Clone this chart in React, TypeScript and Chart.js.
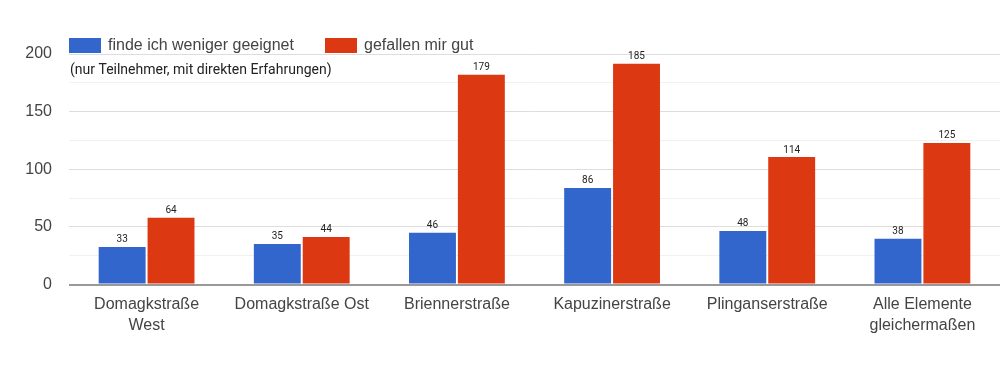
import React, { useEffect, useRef } from "react";
import { Chart, registerables } from "chart.js";

Chart.register(...registerables);

const categories: string[][] = [
  ["Domagkstraße", "West"],
  ["Domagkstraße Ost"],
  ["Briennerstraße"],
  ["Kapuzinerstraße"],
  ["Plinganserstraße"],
  ["Alle Elemente", "gleichermaßen"],
];

const seriesNames = ["finde ich weniger geeignet", "gefallen mir gut"];
const seriesColors = ["#3366cc", "#dc3912"];

// bar heights as drawn in the picture
const wenigerBars = [32.6, 35.2, 44.8, 83.8, 46.5, 39.6];
const gutBars = [57.9, 41.3, 182, 191.5, 110.6, 122.8];

// numbers printed above the bars
const wenigerLabels = ["33", "35", "46", "86", "48", "38"];
const gutLabels = ["64", "44", "179", "185", "114", "125"];

const subtitle = "(nur Teilnehmer, mit direkten Erfahrungen)";
const yMax = 200;
const yStep = 25;

export default function App() {
  const ref = useRef<HTMLCanvasElement | null>(null);

  useEffect(() => {
    document.body.style.margin = "0";
    const canvas = ref.current;
    if (!canvas) return;
    const labelSets = [wenigerLabels, gutLabels];

    const overlay = {
      id: "overlay",
      afterDatasetsDraw(chart: any) {
        const ctx = chart.ctx;
        ctx.save();
        ctx.font = "10px Roboto";
        ctx.fillStyle = "#222";
        ctx.textAlign = "center";
        ctx.textBaseline = "bottom";
        chart.data.datasets.forEach((_: any, di: number) => {
          const meta = chart.getDatasetMeta(di);
          meta.data.forEach((el: any, i: number) => {
            ctx.fillText(labelSets[di][i], el.x, el.y - 2);
          });
        });
        ctx.restore();
      },
      afterDraw(chart: any) {
        const ctx = chart.ctx;
        ctx.save();
        // legend
        ctx.font = "16px Arial";
        ctx.textBaseline = "middle";
        ctx.textAlign = "left";
        const boxX = [69, 325];
        seriesNames.forEach((name, i) => {
          ctx.fillStyle = seriesColors[i];
          ctx.fillRect(boxX[i], 38, 32, 15);
          ctx.fillStyle = "#444";
          ctx.fillText(name, boxX[i] + 39, 45.5);
        });
        // subtitle
        ctx.font = "14px Roboto";
        ctx.fillStyle = "#222";
        ctx.fillText(subtitle, 70, 70);
        ctx.restore();
      },
    };

    const chart = new Chart(canvas, {
      type: "bar",
      data: {
        labels: categories,
        datasets: [
          {
            label: seriesNames[0],
            data: wenigerBars,
            backgroundColor: seriesColors[0],
            categoryPercentage: 0.63,
            barPercentage: 0.96,
          },
          {
            label: seriesNames[1],
            data: gutBars,
            backgroundColor: seriesColors[1],
            categoryPercentage: 0.63,
            barPercentage: 0.96,
          },
        ],
      },
      options: {
        responsive: false,
        animation: false,
        layout: { padding: { top: 54, left: 0, right: 0, bottom: 0 } },
        plugins: {
          legend: { display: false },
          tooltip: { enabled: false },
        },
        scales: {
          x: {
            grid: { display: false },
            border: { display: false },
            ticks: {
              autoSkip: false,
              maxRotation: 0,
              color: "#444",
              padding: 2,
              font: { family: "Arial", size: 16, lineHeight: 1.3 },
            },
            afterFit(scale: any) {
              scale.height = 99.5;
            },
          },
          y: {
            min: 0,
            max: yMax,
            border: { display: false },
            grid: {
              drawTicks: false,
              color: (c: any) =>
                c.tick.value === 0 ? "#999" : c.tick.value % 50 === 0 ? "#ddd" : "#f1f1f1",
              lineWidth: (c: any) => (c.tick.value === 0 ? 2 : 1),
            },
            ticks: {
              stepSize: yStep,
              autoSkip: false,
              padding: 17,
              color: "#444",
              font: { family: "Arial", size: 16 },
              callback: (v: any) => (Number(v) % 50 === 0 ? String(v) : ""),
            },
            afterFit(scale: any) {
              scale.width = 69;
            },
          },
        },
      },
      plugins: [overlay],
    });

    return () => chart.destroy();
  }, []);

  return (
    <div style={{ width: 1000, height: 384 }}>
      <canvas ref={ref} width={1000} height={384} />
    </div>
  );
}
